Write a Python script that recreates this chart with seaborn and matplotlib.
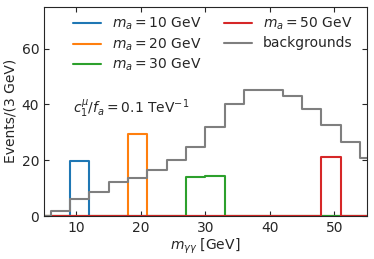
import numpy as np
import pandas as pd
import matplotlib
matplotlib.use("Agg")
import matplotlib.pyplot as plt
import seaborn as sns

# bin edges (3 GeV bins)
edges = list(range(0, 60, 3))
centers = [e + 1.5 for e in edges[:-1]]

# events per bin
bkg = [0, 0, 1.8, 6.1, 8.6, 12.3, 13.5, 16.6, 20.0, 24.6, 31.9, 40.0,
       45.2, 45.3, 42.9, 38.5, 32.6, 26.6, 20.8]
sig_10 = [0, 0, 0, 19.8, 0, 0, 0, 0, 0, 0, 0, 0, 0, 0, 0, 0, 0, 0, 0]
sig_20 = [0, 0, 0, 0, 0, 0, 29.5, 0, 0, 0, 0, 0, 0, 0, 0, 0, 0, 0, 0]
sig_30 = [0, 0, 0, 0, 0, 0, 0, 0, 0, 13.9, 14.2, 0, 0, 0, 0, 0, 0, 0, 0]
sig_50 = [0, 0, 0, 0, 0, 0, 0, 0, 0, 0, 0, 0, 0, 0, 0, 0, 21.1, 0, 0]

series = [
    (r"$m_a = 10$ GeV", sig_10, "#1f77b4"),
    (r"$m_a = 20$ GeV", sig_20, "#ff7f0e"),
    (r"$m_a = 30$ GeV", sig_30, "#2ca02c"),
    (r"$m_a = 50$ GeV", sig_50, "#d62728"),
    ("backgrounds", bkg, "#7f7f7f"),
]

sns.set_style("ticks")
plt.rcParams.update({
    "xtick.direction": "in", "ytick.direction": "in",
    "xtick.top": True, "ytick.right": True,
    "font.size": 10, "axes.labelsize": 10,
    "xtick.labelsize": 10, "ytick.labelsize": 10,
    "legend.fontsize": 10,
})

fig = plt.figure(figsize=(3.74, 2.59), dpi=100)
ax = fig.add_axes([0.118, 0.166, 0.862, 0.808])

for label, vals, col in series:
    df = pd.DataFrame({"m": centers, "w": vals})
    sns.histplot(data=df, x="m", weights="w", bins=edges, element="step",
                 fill=False, color=col, linewidth=1.5, label=label, ax=ax)

ax.set_xlim(5, 55)
ax.set_ylim(0, 75)
ax.set_yticks([0, 20, 40, 60])
ax.set_xticks([10, 20, 30, 40, 50])
ax.set_xlabel(r"$m_{\gamma\gamma}$ [GeV]", labelpad=1)
ax.set_ylabel("Events/(3 GeV)", labelpad=3)
ax.text(9.5, 38.5, r"$c_1^{\mu}/f_a = 0.1$ TeV$^{-1}$", va="center", ha="left")

ax.legend(loc="upper right", bbox_to_anchor=(0.995, 1.015), ncol=2,
          frameon=False, handlelength=2.0, columnspacing=1.6,
          labelspacing=0.28)

fig.savefig("out.png", dpi=100)
